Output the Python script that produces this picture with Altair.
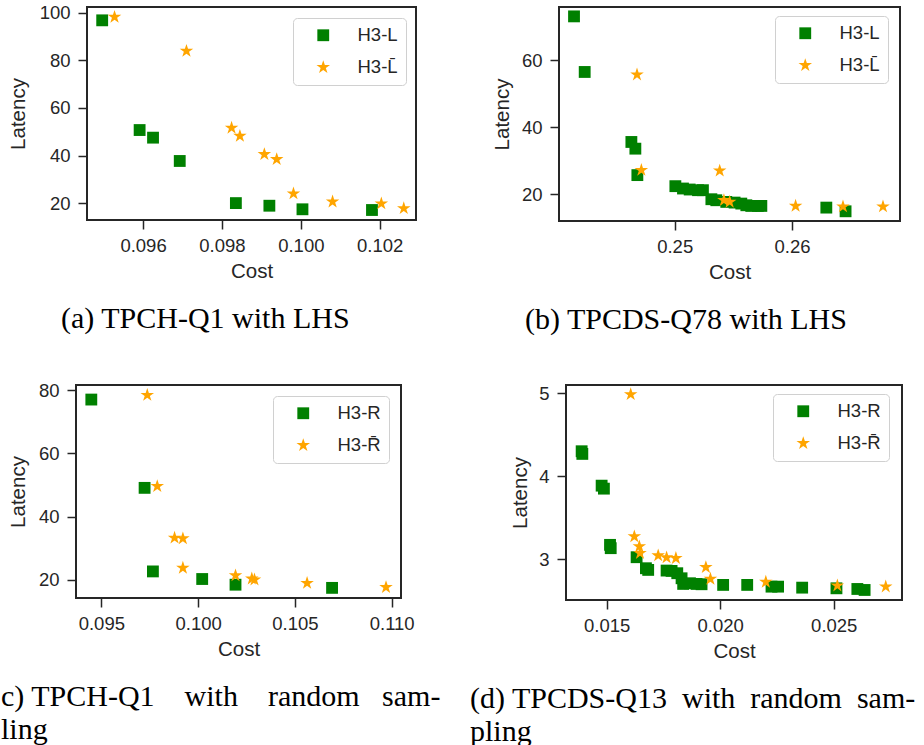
import altair as alt
import pandas as pd

# ---------------- data ----------------
# (a) TPCH-Q1 with LHS
a_names = ["H3-L", "H3-L\u0304"]
a_g_cost = [0.094965, 0.095914, 0.096254, 0.096931, 0.098354, 0.099203, 0.100042, 0.101804]
a_g_lat = [96.8, 50.7, 47.5, 37.7, 20.0, 18.9, 17.4, 17.1]
a_o_cost = [0.095278, 0.097101, 0.098245, 0.098456, 0.099076, 0.099389, 0.099814, 0.100805, 0.102041, 0.102610]
a_o_lat = [98.2, 83.9, 51.6, 48.2, 40.5, 38.4, 24.0, 20.6, 19.8, 17.8]

# (b) TPCDS-Q78 with LHS
b_names = ["H3-L", "H3-L\u0304"]
b_g_cost = [0.24142, 0.24233, 0.24631, 0.24665, 0.24682, 0.25006, 0.25071, 0.25128, 0.25199, 0.25241,
            0.25313, 0.25355, 0.25440, 0.25511, 0.25568, 0.25611, 0.25653, 0.25710, 0.25739, 0.26293, 0.26457]
b_g_lat = [73.1, 56.5, 35.6, 33.6, 25.7, 22.4, 21.7, 21.4, 21.2, 21.2,
           18.5, 18.2, 17.7, 17.5, 17.2, 16.7, 16.5, 16.5, 16.5, 16.0, 14.9]
b_o_cost = [0.24679, 0.24716, 0.25384, 0.25420, 0.25469, 0.26031, 0.26435, 0.26776]
b_o_lat = [55.7, 27.2, 27.0, 18.2, 17.7, 16.5, 16.3, 16.3]

# (c) TPCH-Q1 with random sampling
c_names = ["H3-R", "H3-R\u0304"]
c_g_cost = [0.094484, 0.097236, 0.097666, 0.100211, 0.101932, 0.106919]
c_g_lat = [77.0, 49.1, 22.7, 20.3, 18.5, 17.5]
c_o_cost = [0.097374, 0.097890, 0.098784, 0.099214, 0.099214, 0.101932, 0.102774, 0.102912, 0.105629, 0.109706]
c_o_lat = [78.4, 49.6, 33.3, 33.1, 23.8, 21.4, 20.4, 20.1, 19.0, 17.7]

# (d) TPCDS-Q13 with random sampling
d_names = ["H3-R", "H3-R\u0304"]
d_g_cost = [0.01390, 0.01393, 0.01478, 0.01488, 0.01515, 0.01518, 0.01632, 0.01673, 0.01683, 0.01764,
            0.01786, 0.01811, 0.01830, 0.01837, 0.01867, 0.01896, 0.01918, 0.02013, 0.02119, 0.02226,
            0.02255, 0.02361, 0.02512, 0.02604, 0.02636]
d_g_lat = [4.302, 4.270, 3.887, 3.851, 3.173, 3.133, 3.024, 2.891, 2.871, 2.863,
           2.859, 2.831, 2.770, 2.702, 2.710, 2.702, 2.698, 2.690, 2.690, 2.669,
           2.669, 2.657, 2.649, 2.641, 2.629]
d_o_cost = [0.01606, 0.01622, 0.01644, 0.01647, 0.01727, 0.01764, 0.01805, 0.01937, 0.01957, 0.02201,
            0.02516, 0.02729]
d_o_lat = [4.988, 3.274, 3.153, 3.073, 3.044, 3.020, 3.012, 2.903, 2.762, 2.726, 2.681, 2.669]

NB = "\u00a0"
captions = {
    "a": "(a) TPCH-Q1 with LHS",
    "b": "(b) TPCDS-Q78 with LHS",
    "c": ["c) TPCH-Q1" + NB * 4 + "with" + NB * 4 + "random" + NB * 3 + "sam-", "ling"],
    "d": ["(d) TPCDS-Q13" + NB * 2 + "with" + NB * 2 + "random" + NB * 2 + "sam-", "pling"],
}

GREEN = "#008000"
ORANGE = "#FFA500"
INK = "#262626"
SANS = "Liberation Sans"
SERIF = "Liberation Serif"
STAR = ("M0,-1.2L0.269,-0.371L1.141,-0.371L0.436,0.142L0.706,0.971L0,0.458"
        "L-0.706,0.971L-0.436,0.142L-1.141,-0.371L-0.269,-0.371Z")


def panel(names, g_cost, g_lat, o_cost, o_lat, xdom, ydom, xticks, xfmt, yticks,
          w, h, legx, legy, caption, cap_dx, title_x):
    df = pd.DataFrame({
        "Cost": list(g_cost) + list(o_cost),
        "Latency": list(g_lat) + list(o_lat),
        "Series": [names[0]] * len(g_cost) + [names[1]] * len(o_cost),
    })
    leg = alt.Legend(title=None, orient="none", legendX=legx, legendY=legy)
    return alt.Chart(df).mark_point(filled=True, opacity=1, size=140, strokeWidth=0).encode(
        x=alt.X("Cost:Q",
                scale=alt.Scale(domain=xdom, nice=False, zero=False),
                axis=alt.Axis(values=xticks, format=xfmt, title="Cost")),
        y=alt.Y("Latency:Q",
                scale=alt.Scale(domain=ydom, nice=False, zero=False),
                axis=alt.Axis(values=yticks, format="d", title="Latency", titleX=title_x)),
        color=alt.Color("Series:N", scale=alt.Scale(domain=names, range=[GREEN, ORANGE]), legend=leg),
        shape=alt.Shape("Series:N", scale=alt.Scale(domain=names, range=["square", STAR]), legend=leg),
    ).properties(
        width=w, height=h,
        title=alt.TitleParams(text=caption, orient="bottom", anchor="start", frame="group",
                              dx=cap_dx, offset=22, font=SERIF, fontSize=30, fontWeight="normal",
                              color="black", lineHeight=33),
    )


pa = panel(a_names, a_g_cost, a_g_lat, a_o_cost, a_o_lat,
           [0.09458, 0.10292], [12.9, 102.4], [0.096, 0.098, 0.100, 0.102], ".3f", [20, 40, 60, 80, 100],
           329, 213, 206, 11, captions["a"], -26, -59)
pb = panel(b_names, b_g_cost, b_g_lat, b_o_cost, b_o_lat,
           [0.24014, 0.26921], [12.0, 75.9], [0.25, 0.26], ".2f", [20, 40, 60],
           341, 214, 216, 9, captions["b"], -34, -47)
pc = panel(c_names, c_g_cost, c_g_lat, c_o_cost, c_o_lat,
           [0.093693, 0.110480], [14.3, 81.6], [0.095, 0.100, 0.105, 0.110], ".3f", [20, 40, 60, 80],
           325, 213, 197, 11, captions["c"], -75, -48)
pd_ = panel(d_names, d_g_cost, d_g_lat, d_o_cost, d_o_lat,
            [0.013211, 0.028006], [2.508, 5.101], [0.015, 0.020, 0.025], ".3f", [3, 4, 5],
            336, 215, 207, 9, captions["d"], -96, -36)

spacer = alt.Chart(pd.DataFrame({"v": [0]})).mark_point(opacity=0).encode(
    x=alt.value(0), y=alt.value(0)
).properties(width=1, height=1, view=alt.ViewBackground(strokeOpacity=0, strokeWidth=0))

inner = alt.hconcat(spacer, pa, spacing=10, bounds="flush").resolve_scale(
    color="independent", shape="independent")
row1 = alt.hconcat(inner, pb, spacing=74).resolve_scale(
    color="independent", shape="independent")
row2 = alt.hconcat(pc, pd_, spacing=165, bounds="flush").resolve_scale(
    color="independent", shape="independent")

chart = alt.vconcat(row1, row2, spacing=44).resolve_scale(
    color="independent", shape="independent"
).properties(
    padding={"left": 0, "top": 2, "right": 0, "bottom": 0},
    background="white",
).configure_view(
    stroke=INK, strokeWidth=2,
).configure_axis(
    domain=False, grid=False, ticks=True, tickColor=INK, tickWidth=1.5, tickSize=9,
    labelFont=SANS, labelFontSize=18.5, labelColor=INK,
    titleFont=SANS, titleFontSize=20.5, titleColor=INK, titleFontWeight="normal",
).configure_axisX(
    labelPadding=7, titlePadding=7,
).configure_axisY(
    labelPadding=8,
).configure_legend(
    labelFont=SANS, labelFontSize=18.5, labelColor=INK,
    padding=8, rowPadding=13, symbolOffset=13, labelOffset=25, symbolSize=140,
    symbolStrokeWidth=0, strokeColor="#d0d0d0", fillColor="rgba(255,255,255,0.85)",
    cornerRadius=4,
)

chart.save("out.html", embed_options={"renderer": "svg", "actions": False})
